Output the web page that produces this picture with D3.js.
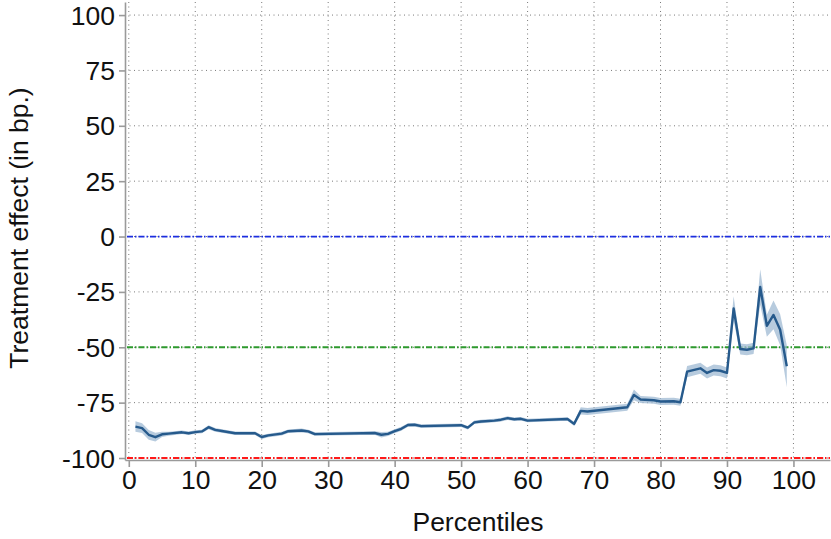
<!DOCTYPE html>
<html>
<head>
<meta charset="utf-8">
<script src="https://cdn.jsdelivr.net/npm/d3@7/dist/d3.min.js"></script>
<style>
  html, body { margin: 0; padding: 0; background: #ffffff; }
  svg { display: block; font-family: "Liberation Sans", Arial, sans-serif; }
</style>
</head>
<body>
<svg id="chart" width="831" height="539"></svg>
<script>
// Percentile at which each estimate is reported
const percentiles = [1, 2, 3, 4, 5, 6, 8, 9, 10, 11, 12, 13, 14, 16, 19, 20, 21, 23, 24, 26, 27, 28,
  37, 38, 39, 40, 41, 42, 43, 44, 50, 51, 52, 53, 55, 56, 57, 58, 59, 60, 66, 67, 68, 69, 75, 76,
  77, 79, 80, 82, 83, 84, 86, 87, 88, 89, 90, 91, 92, 93, 94, 95, 96, 97, 98, 99];
// Point estimate of the treatment effect (bp.)
const effect = [-85.8, -86.5, -89.5, -90.6, -89.3, -89.0, -88.4, -88.8, -88.3, -88.0, -86.1, -87.3, -87.8, -88.8, -88.8, -90.5, -89.8, -89.0, -87.9, -87.6, -88.0, -89.2,
  -88.7, -89.5, -89.1, -87.9, -86.8, -85.1, -85.0, -85.6, -85.2, -86.3, -83.9, -83.5, -83.1, -82.7, -82.0, -82.5, -82.3, -83.1, -82.4, -84.6, -78.7, -79.0, -77.1, -71.5,
  -73.6, -73.9, -74.5, -74.4, -74.8, -61.0, -59.5, -61.6, -60.3, -60.6, -61.6, -32.5, -50.8, -51.1, -50.5, -22.8, -40.3, -35.4, -42.1, -58.6];
// Half-width of the confidence band (bp.)
const halfWidth = [2.4, 2.2, 2.2, 2.0, 1.2, 0.9, 0.8, 0.8, 0.8, 0.8, 0.9, 0.8, 0.8, 0.8, 0.8, 0.9, 0.8, 0.8, 0.8, 0.9, 0.8, 0.8,
  0.8, 1.2, 1.0, 0.9, 0.9, 0.8, 0.8, 0.8, 0.8, 0.8, 0.8, 0.8, 0.8, 0.8, 0.8, 0.8, 0.8, 0.8, 0.8, 1.0, 1.6, 1.6, 1.6, 2.4,
  1.6, 1.6, 1.6, 1.6, 1.6, 2.5, 2.5, 2.5, 2.5, 2.5, 2.5, 5.5, 2.5, 2.5, 2.5, 8.0, 5.0, 6.5, 7.0, 9.5];

// Axis ticks
const xTicks = [0, 10, 20, 30, 40, 50, 60, 70, 80, 90, 100];
const yTicks = [-100, -75, -50, -25, 0, 25, 50, 75, 100];

// Horizontal reference lines
const refValues = [0, -50, -100];
const refColors = ["#1c2ee0", "#2e9a2e", "#ff1a1a"];

const svg = d3.select("#chart");
const plotLeft = 125, plotRight = 830, plotTop = 2, plotBottom = 460;

const x = d3.scaleLinear().domain([-0.57, 105.5]).range([plotLeft, plotRight]);
const y = d3.scaleLinear().domain([-100.9, 105.9]).range([plotBottom, plotTop]);

const rows = percentiles.map((p, i) => ({ p, v: effect[i], lo: effect[i] - halfWidth[i], hi: effect[i] + halfWidth[i] }));

// Dotted grid
const grid = svg.append("g");
grid.selectAll("line.gx").data(xTicks).join("line")
  .attr("x1", d => x(d)).attr("x2", d => x(d))
  .attr("y1", plotTop).attr("y2", plotBottom)
  .attr("stroke", "#7a7a7a").attr("stroke-width", 1)
  .attr("stroke-dasharray", "1,3.5");
grid.selectAll("line.gy").data(yTicks).join("line")
  .attr("x1", plotLeft).attr("x2", plotRight)
  .attr("y1", d => y(d)).attr("y2", d => y(d))
  .attr("stroke", "#7a7a7a").attr("stroke-width", 1)
  .attr("stroke-dasharray", "1,3.5");

// Reference lines
svg.append("g").selectAll("line").data(refValues).join("line")
  .attr("x1", plotLeft + 2).attr("x2", plotRight)
  .attr("y1", d => y(d)).attr("y2", d => y(d))
  .attr("stroke", (d, i) => refColors[i]).attr("stroke-width", 1.8)
  .attr("stroke-dasharray", "6,2,1.5,2");

// Confidence band
svg.append("path").datum(rows)
  .attr("fill", "#9fb9d3").attr("fill-opacity", 0.75)
  .attr("d", d3.area().x(d => x(d.p)).y0(d => y(d.lo)).y1(d => y(d.hi)));

// Point estimate line
svg.append("path").datum(rows)
  .attr("fill", "none").attr("stroke", "#265a8c").attr("stroke-width", 2.4)
  .attr("stroke-linejoin", "round")
  .attr("d", d3.line().x(d => x(d.p)).y(d => y(d.v)));

// Axes (plain hyphen for negative labels)
const axisColor = "#9a9a9a";
const fmt = d => String(d);
const xAxis = svg.append("g").attr("transform", `translate(0,${plotBottom})`)
  .call(d3.axisBottom(x).tickValues(xTicks).tickFormat(fmt).tickSize(7).tickSizeOuter(0).tickPadding(3));
const yAxis = svg.append("g").attr("transform", `translate(${plotLeft},0)`)
  .call(d3.axisLeft(y).tickValues(yTicks).tickFormat(fmt).tickSize(6).tickSizeOuter(0).tickPadding(4));
[xAxis, yAxis].forEach(g => {
  g.select(".domain").attr("stroke", axisColor).attr("stroke-width", 1.6);
  g.selectAll(".tick line").attr("stroke", axisColor).attr("stroke-width", 1.6);
  g.selectAll(".tick text").attr("fill", "#111").attr("font-size", 26.5)
    .attr("font-family", "Liberation Sans, Arial, sans-serif");
});
yAxis.selectAll(".tick text").attr("dy", "0.34em");

// Axis titles
svg.append("text").attr("x", 478).attr("y", 531).attr("text-anchor", "middle")
  .attr("font-size", 26.5).attr("fill", "#111").text("Percentiles");
svg.append("text").attr("transform", "translate(28,228) rotate(-90)")
  .attr("text-anchor", "middle").attr("font-size", 26.5).attr("fill", "#111")
  .text("Treatment effect (in bp.)");
</script>
</body>
</html>
